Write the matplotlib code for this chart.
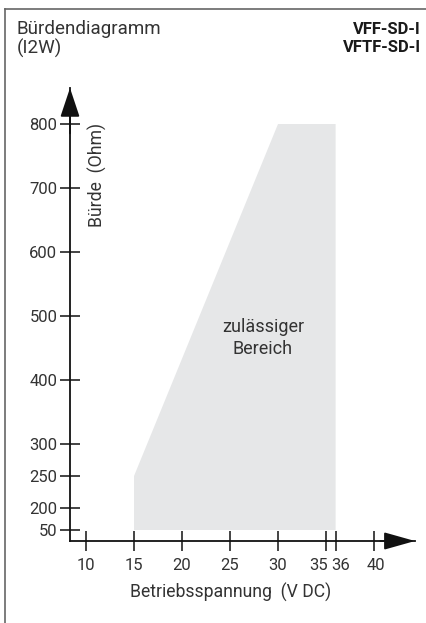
import numpy as np
import matplotlib
matplotlib.use("Agg")
import matplotlib.pyplot as plt
import matplotlib.transforms as mtransforms
from matplotlib.lines import Line2D

# ---- data ----
region_x = [15, 15, 30, 36, 36]
region_y = [50, 250, 800, 800, 50]
x_ticks = [10, 15, 20, 25, 30, 35, 36, 40]
y_ticks = [50, 200, 250, 300, 400, 500, 600, 700, 800]
title_left = ["Bürdendiagramm", "(I2W)"]
title_right = ["VFF-SD-I", "VFTF-SD-I"]
x_label = "Betriebsspannung  (V DC)"
y_label = "Bürde  (Ohm)"
region_label = "zulässiger\nBereich"

plt.rcParams['font.family'] = ['Roboto', 'DejaVu Sans']
TXT = '#333333'

W, H = 427, 623
fig = plt.figure(figsize=(W / 100, H / 100), dpi=100)

def px(x, y):
    return x / W, 1 - y / H

# broken axis below 200
K = 0.2293
def fwd(v):
    v = np.asarray(v, dtype=float)
    return np.where(v >= 200, v, 200 - (200 - v) * K)
def inv(u):
    u = np.asarray(u, dtype=float)
    return np.where(u >= 200, u, 200 - (200 - u) / K)

left, right, top, bottom = 70, 415, 88, 541
ax = fig.add_axes([left / W, 1 - bottom / H, (right - left) / W, (bottom - top) / H])
ax.set_yscale('function', functions=(fwd, inv))
ax.set_xlim(8.33, 44.27)
ax.set_ylim(inv(148.4), 856.25)

ax.fill(region_x, region_y, color='#e6e7e8', lw=0, zorder=1)

for s in ['top', 'right']:
    ax.spines[s].set_visible(False)
for s in ['left', 'bottom']:
    ax.spines[s].set_linewidth(1.3)
    ax.spines[s].set_color('#111111')

ax.set_xticks(x_ticks)
ax.set_xticklabels([str(t) for t in x_ticks])
ax.set_yticks(y_ticks)
ax.set_yticklabels([str(t) for t in y_ticks])
ax.tick_params(axis='both', direction='inout', length=14, width=1.1, color='#111111',
               labelsize=12, labelcolor=TXT)
ax.tick_params(axis='x', pad=5)
ax.tick_params(axis='y', pad=2)

# nudge the crowded 35 / 36 labels apart
for lbl in ax.get_xticklabels():
    t = lbl.get_text()
    if t == '35':
        lbl.set_transform(lbl.get_transform() + mtransforms.ScaledTranslation(-7 / 100, 0, fig.dpi_scale_trans))
    elif t == '36':
        lbl.set_transform(lbl.get_transform() + mtransforms.ScaledTranslation(5 / 100, 0, fig.dpi_scale_trans))
    elif t == '40':
        lbl.set_transform(lbl.get_transform() + mtransforms.ScaledTranslation(2 / 100, 0, fig.dpi_scale_trans))

# arrows
ax.annotate('', xy=(0, 1), xytext=(0, 0.9), xycoords='axes fraction',
            arrowprops=dict(arrowstyle='-|>,head_length=1.5,head_width=0.5', color='#111111', lw=1.3,
                            shrinkA=0, shrinkB=0, mutation_scale=12), annotation_clip=False)
ax.annotate('', xy=(1, 0), xytext=(0.9, 0), xycoords='axes fraction',
            arrowprops=dict(arrowstyle='-|>,head_length=1.6,head_width=0.45', color='#111111', lw=1.3,
                            shrinkA=0, shrinkB=0, mutation_scale=12), annotation_clip=False)

fig.text(*px(263, 338), region_label, ha='center', va='center', fontsize=13, color=TXT, linespacing=1.25)

fig.text(*px(231, 592), x_label, ha='center', va='center', fontsize=12.7, color=TXT)
fig.text(*px(97, 175), y_label, ha='center', va='center', rotation=90, fontsize=12.7, color=TXT)

fig.text(*px(17, 29), title_left[0], ha='left', va='center', fontsize=13.5, color=TXT)
fig.text(*px(17, 48), title_left[1], ha='left', va='center', fontsize=13.5, color=TXT)
fig.text(*px(421, 29), title_right[0], ha='right', va='center', fontsize=12, color='#1a1a1a', fontweight='bold')
fig.text(*px(421, 48), title_right[1], ha='right', va='center', fontsize=12, color='#1a1a1a', fontweight='bold')

# frame
fig.add_artist(Line2D([5 / W, 5 / W], [0, 1 - 9 / H], transform=fig.transFigure, color='#666666', lw=1.2))
fig.add_artist(Line2D([5 / W, 1], [1 - 9 / H, 1 - 9 / H], transform=fig.transFigure, color='#666666', lw=1.2))

fig.savefig('out.png', dpi=100)
